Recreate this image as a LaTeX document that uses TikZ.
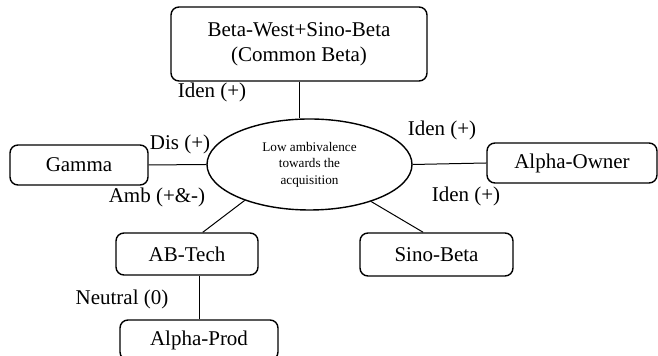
\documentclass[tikz,border=0pt]{standalone}
\usepackage{fontspec}
\setmainfont{Liberation Serif}
\usetikzlibrary{shapes.geometric}

\begin{document}
\begin{tikzpicture}[x=0.5pt,y=-0.5pt]

        \useasboundingbox (0,0) rectangle (658,356);

        \begin{scope}[every node/.style={draw,rounded corners=4pt,line width=0.7pt,inner sep=0pt,align=center,font=\fontsize{10.5}{12.5}\selectfont}]
          \node[minimum width=128pt,minimum height=37pt] (CommonBeta) at (299,44)  {Beta-West+Sino-Beta\\(Common Beta)};
          \node[minimum width=69pt,minimum height=20pt]  (Gamma)      at (79,165)  {Gamma};
          \node[minimum width=85pt,minimum height=20pt]  (AlphaOwner) at (572,163) {Alpha-Owner};
          \node[minimum width=71pt,minimum height=21pt]  (ABTech)     at (187,254) {AB-Tech};
          \node[minimum width=76.5pt,minimum height=21.5pt] (SinoBeta) at (436.5,254.5) {Sino-Beta};
          \node[minimum width=79pt,minimum height=20pt]  (AlphaProd)  at (199,340) {Alpha-Prod};
        \end{scope}

        \node[ellipse,draw,line width=0.7pt,minimum width=102.5pt,minimum height=45.5pt,inner sep=0pt,align=center,
              font=\fontsize{6.6}{8.25}\selectfont] (Low) at (309.5,164.5) {Low ambivalence\\towards the\\acquisition};

        \begin{scope}[line width=0.5pt]
          \draw (CommonBeta.south) -- (CommonBeta.south |- Low.north);
          \draw (Gamma.east) -- (Low.west);
          \draw (Low.east) -- (AlphaOwner.west);
          \draw (Low.209) -- (ABTech.54);
          \draw (Low.329) -- (SinoBeta.121);
          \draw (AlphaProd.north) -- (AlphaProd.north |- ABTech.south);
        \end{scope}

        \begin{scope}[every node/.style={inner sep=0pt,font=\fontsize{10.5}{12.5}\selectfont}]
          \node (idenTop)   at (212,92)  {Iden (+)};
          \node (dis)       at (180,144) {Dis (+)};
          \node (amb)       at (157,197) {Amb (+\&-)};
          \node (idenOwner) at (442,130) {Iden (+)};
          \node (idenSino)  at (466,196) {Iden (+)};
          \node (neutral)   at (122,299) {Neutral (0)};
        \end{scope}

      \end{tikzpicture}
\end{document}
